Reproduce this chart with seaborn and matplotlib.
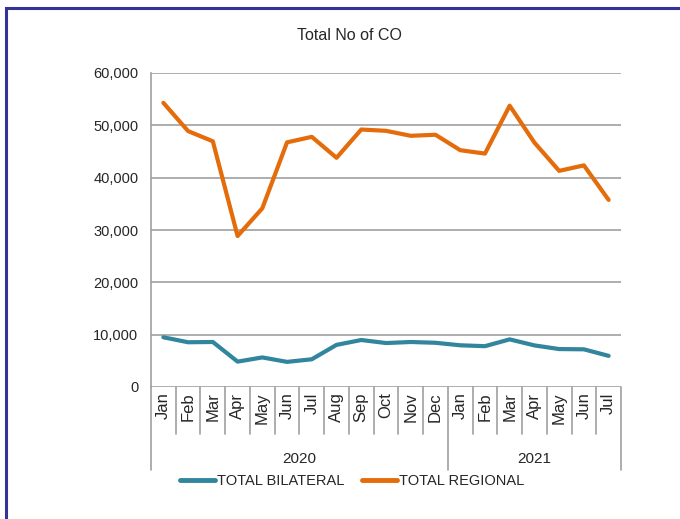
import matplotlib
matplotlib.use("Agg")
import matplotlib.pyplot as plt
import matplotlib.transforms as mtransforms
from matplotlib.patches import Rectangle
from matplotlib.ticker import FuncFormatter
import seaborn as sns
import pandas as pd
import numpy as np

# datos
months = ["Jan", "Feb", "Mar", "Apr", "May", "Jun", "Jul", "Aug", "Sep", "Oct", "Nov", "Dec",
          "Jan", "Feb", "Mar", "Apr", "May", "Jun", "Jul"]
years = ["2020"] * 12 + ["2021"] * 7
bilateral = [9500, 8550, 8600, 4850, 5650, 4800, 5300, 8050, 8980, 8400, 8600, 8450,
             7970, 7800, 9100, 7950, 7250, 7200, 5950]
regional = [54300, 48900, 46950, 28850, 34150, 46750, 47800, 43800, 49200, 48950, 48000, 48200,
            45250, 44600, 53750, 46700, 41300, 42350, 35750]
series_names = ["TOTAL BILATERAL", "TOTAL REGIONAL"]
colors = ["#31859c", "#e46c0a"]

sns.set_style("white")
plt.rcParams["font.family"] = ["Liberation Sans", "DejaVu Sans"]

idx = np.arange(len(months))
df = pd.DataFrame({
    "idx": np.concatenate([idx, idx]),
    "value": bilateral + regional,
    "series": [series_names[0]] * len(idx) + [series_names[1]] * len(idx),
})

fig = plt.figure(figsize=(6.8, 5.19), dpi=100)
ax = fig.add_axes([151 / 680, 1 - 387 / 519, 470 / 680, 314 / 519])

sns.lineplot(data=df, x="idx", y="value", hue="series", palette=colors,
             linewidth=3, ax=ax, legend=False)

ax.set_xlim(-0.5, len(months) - 0.5)
ax.set_ylim(0, 60000)
ax.set_yticks(np.arange(0, 60001, 10000))
ax.yaxis.set_major_formatter(FuncFormatter(lambda v, p: f"{int(v):,}"))
ax.grid(axis="y", color="#a0a0a0", linewidth=1.2)
ax.set_axisbelow(True)
for s in ["top", "right", "bottom"]:
    ax.spines[s].set_visible(False)
ax.spines["left"].set_color("#a0a0a0")
ax.spines["left"].set_linewidth(1.2)
ax.tick_params(axis="y", length=5, color="#a0a0a0", width=1.2, labelsize=10.5, pad=4)
ax.set_xlabel("")
ax.set_ylabel("")

# etiquetas de meses
ax.set_xticks(idx)
ax.set_xticklabels(months, rotation=90, fontsize=12)
ax.tick_params(axis="x", length=0, pad=4)

# lineas separadoras de categorias y de años
trans = mtransforms.blended_transform_factory(ax.transData, ax.transAxes)
sep_kw = dict(color="#a0a0a0", linewidth=1.2, transform=trans, clip_on=False)
year_bounds = [0]
for i in range(1, len(years)):
    if years[i] != years[i - 1]:
        year_bounds.append(i)
year_bounds.append(len(years))
for b in range(len(months) + 1):
    x = b - 0.5
    bottom = -0.264 if b in year_bounds else -0.150
    ax.plot([x, x], [0, bottom], **sep_kw)
for a, b in zip(year_bounds[:-1], year_bounds[1:]):
    ax.text((a + b - 1) / 2, -0.228, years[a], transform=trans, ha="center",
            va="center", fontsize=11)

# titulo y leyenda
fig.text(349 / 680, 1 - 36 / 519, "Total No of CO", ha="center", va="center", fontsize=11.5)
handles = [plt.Line2D([], [], color=c, linewidth=3.5) for c in colors]
fig.legend(handles, series_names, loc="center", bbox_to_anchor=(352 / 680, 1 - 481 / 519),
           ncol=2, frameon=False, fontsize=10.5, handlelength=2.4, handletextpad=0.15,
           columnspacing=1.2)

# marco
fig.patches.append(Rectangle((6 / 680, -0.1), 700 / 680, 1.1 - 8 / 519,
                             transform=fig.transFigure, fill=False,
                             edgecolor="#333399", linewidth=2.2))

fig.savefig("out.png", dpi=100)
